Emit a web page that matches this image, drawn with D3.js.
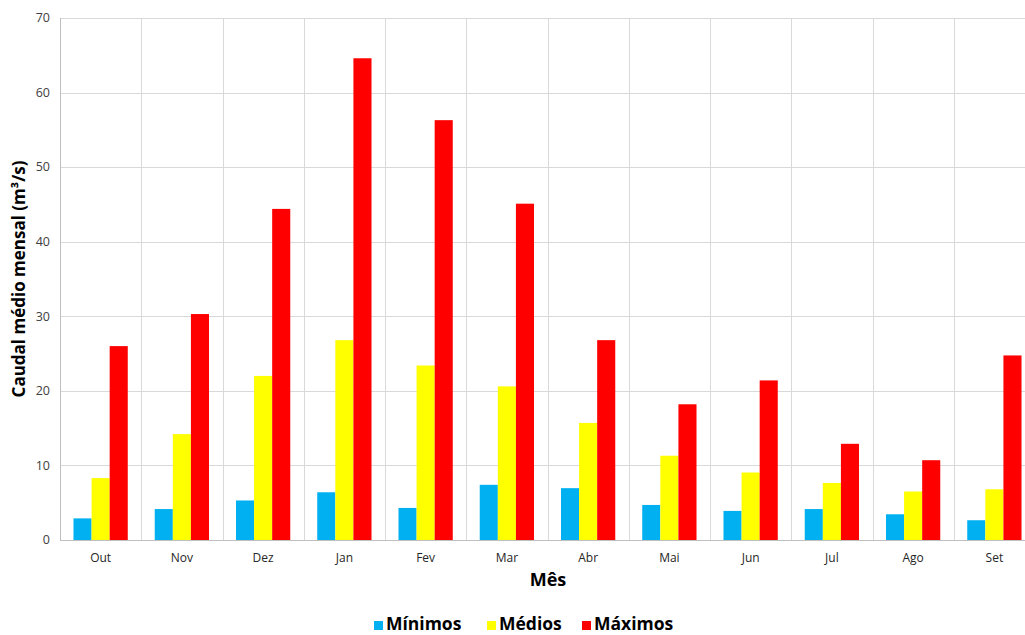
<!DOCTYPE html>
<html>
<head>
<meta charset="utf-8">
<script src="https://cdn.jsdelivr.net/npm/d3@7"></script>
<style>
html,body{margin:0;padding:0;background:#fff;overflow:hidden;}
svg{display:block;}
</style>
</head>
<body>
<svg id="chart" width="1025" height="635"></svg>
<script>
const months = ["Out","Nov","Dez","Jan","Fev","Mar","Abr","Mai","Jun","Jul","Ago","Set"];
const seriesNames = ["Mínimos","Médios","Máximos"];
const minimos = [2.9, 4.15, 5.3, 6.4, 4.3, 7.4, 6.95, 4.7, 3.9, 4.15, 3.45, 2.65];
const medios  = [8.3, 14.2, 22.0, 26.8, 23.4, 20.6, 15.7, 11.3, 9.05, 7.65, 6.5, 6.8];
const maximos = [26.0, 30.3, 44.4, 64.6, 56.3, 45.1, 26.8, 18.2, 21.4, 12.9, 10.7, 24.75];
const colors = ["#00b0f0","#ffff00","#ff0000"];
const yTicks = [0,10,20,30,40,50,60,70];

(function(){
const svg = d3.select("#chart");
const pL = 60, pR = 1035, pT = 18, pB = 540;

const x0 = d3.scaleBand().domain(months).range([pL, pR]).paddingInner(0).paddingOuter(0);
const bw = x0.bandwidth();
const x1 = d3.scaleBand().domain(seriesNames).range([bw*0.166, bw*0.834]).padding(0);
const y = d3.scaleLinear().domain([0,70]).range([pB, pT]);

const values = [minimos, medios, maximos];

// horizontal gridlines
svg.append("g").selectAll("line").data(yTicks).join("line")
  .attr("x1", pL).attr("x2", pR)
  .attr("y1", d => Math.round(y(d)) + 0.5).attr("y2", d => Math.round(y(d)) + 0.5)
  .attr("stroke", "#d9d9d9").attr("stroke-width", 1);

// vertical gridlines at band boundaries
const bounds = months.map(m => x0(m)).concat([pR]);
svg.append("g").selectAll("line").data(bounds).join("line")
  .attr("x1", d => Math.round(d) + 0.5).attr("x2", d => Math.round(d) + 0.5)
  .attr("y1", pT).attr("y2", pB)
  .attr("stroke", "#d9d9d9").attr("stroke-width", 1);

// axis lines
svg.append("line").attr("x1", pL+0.5).attr("x2", pL+0.5).attr("y1", pT).attr("y2", pB)
  .attr("stroke", "#bfbfbf");
svg.append("line").attr("x1", pL).attr("x2", pR).attr("y1", pB+0.5).attr("y2", pB+0.5)
  .attr("stroke", "#bfbfbf");

// bars
const groups = svg.append("g").selectAll("g").data(months).join("g")
  .attr("transform", d => `translate(${x0(d)},0)`);
groups.selectAll("rect").data((m, i) => seriesNames.map((s, k) => ({s, k, v: values[k][i]})))
  .join("rect")
  .attr("x", d => x1(d.s))
  .attr("width", x1.bandwidth())
  .attr("y", d => y(d.v))
  .attr("height", d => y(0) - y(d.v))
  .attr("fill", d => colors[d.k]);

// y axis labels
const yAxis = d3.axisLeft(y).tickValues(yTicks).tickSize(0).tickPadding(10);
const yg = svg.append("g").attr("transform", `translate(${pL},0)`).call(yAxis);
yg.select(".domain").remove();
yg.selectAll("text").attr("font-family", "'Open Sans', sans-serif").attr("font-size", 12.5)
  .attr("fill", "#404040").attr("dy", "0.3em");

// x axis labels
const xAxis = d3.axisBottom(x0).tickSize(0).tickPadding(13);
const xg = svg.append("g").attr("transform", `translate(0,${pB})`).call(xAxis);
xg.select(".domain").remove();
xg.selectAll("text").attr("font-family", "'Open Sans', sans-serif").attr("font-size", 12)
  .attr("fill", "#262626");

// axis titles
svg.append("text").attr("x", 548).attr("y", 586)
  .attr("text-anchor", "middle").attr("font-family", "'Open Sans', sans-serif")
  .attr("font-weight", "bold").attr("font-size", 18).attr("fill", "#000").text("Mês");
svg.append("text").attr("transform", `translate(25,${(pT+pB)/2}) rotate(-90)`)
  .attr("text-anchor", "middle").attr("font-family", "'Open Sans', sans-serif")
  .attr("font-weight", "bold").attr("font-size", 17).attr("fill", "#000")
  .text("Caudal médio mensal (m³/s)");

// legend
const legendX = [374, 487, 582];
const lg = svg.append("g").selectAll("g").data(seriesNames).join("g")
  .attr("transform", (d, i) => `translate(${legendX[i]},621)`);
lg.append("rect").attr("x", 0).attr("y", 0).attr("width", 9).attr("height", 9)
  .attr("fill", (d, i) => colors[i]);
lg.append("text").attr("x", 12).attr("y", 9).attr("font-family", "'Open Sans', sans-serif")
  .attr("font-weight", "bold").attr("font-size", 17.5).attr("fill", "#000").text(d => d);
})();
</script>
</body>
</html>
